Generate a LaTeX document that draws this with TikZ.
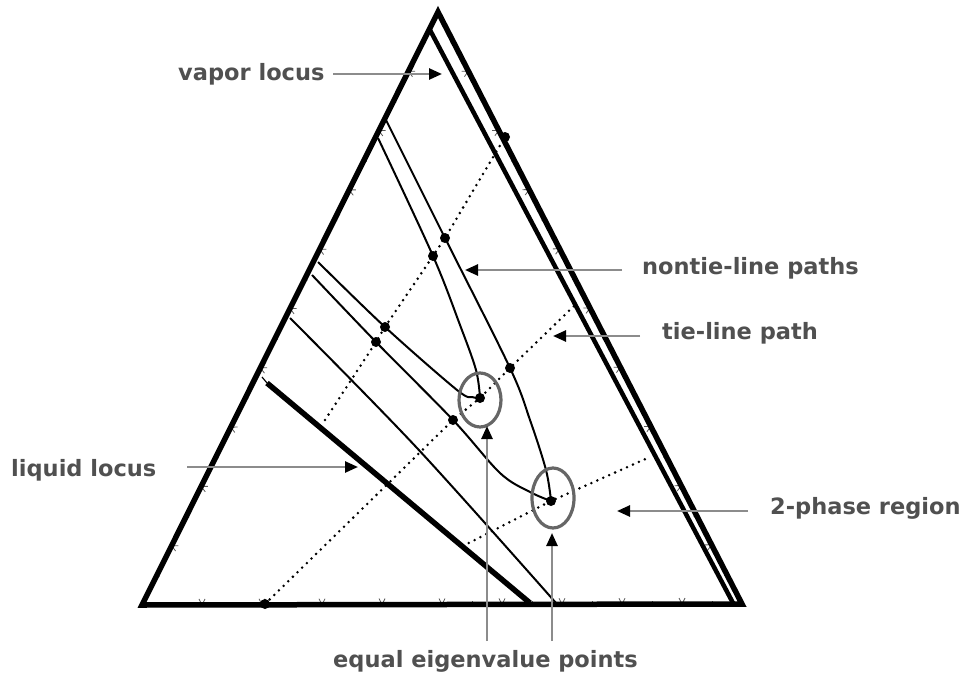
\documentclass[tikz,border=0pt]{standalone}
\usepackage{fontspec}
\setmainfont{DejaVu Sans}
\usetikzlibrary{arrows.meta,calc}
\definecolor{txtgray}{HTML}{505050}
\definecolor{arrgray}{HTML}{8C8C8C}
\definecolor{ellgray}{HTML}{666666}
\begin{document}
\begin{tikzpicture}[x=1pt,y=-1pt,
  frame/.style={line width=5.5pt, line join=miter, line cap=round},
  vapline/.style={line width=4.5pt, line cap=round},
  liqline/.style={line width=5.5pt},
  pathline/.style={line width=2pt, line join=round},
  tieline/.style={line width=2.8pt, line cap=round, dash pattern=on 0pt off 6.5pt},
  tickmark/.style={draw=black!65, line width=0.8pt},
  dotmark/.style={fill=black},
  eqell/.style={draw=ellgray, line width=3.2pt},
  lbl/.style={font=\fontsize{22.5}{26}\selectfont\bfseries, text=txtgray, inner sep=0pt, anchor=base west},
  ptr/.style={draw=arrgray, line width=2.5pt, -{Triangle[length=13pt,width=11pt,color=black]}}]
\useasboundingbox (0,0) rectangle (963,677);

% triangle corners
\coordinate (A) at (438,12);
\coordinate (B) at (142,605);
\coordinate (C) at (742,604);

% ticks
\foreach \k in {1,...,9}{
  \pgfmathsetmacro{\tM}{\k/10}
  \draw[tickmark, shift={($(B)!\tM!(C)$)}] (-3,-6) -- (0,0) -- (3,-6);
  \draw[tickmark, shift={($(B)!\tM!(A)$)}, rotate=-116.4] (-3,-6) -- (0,0) -- (3,-6);
  \draw[tickmark, shift={($(C)!\tM!(A)$)}, rotate=117.1] (-3,-6) -- (0,0) -- (3,-6);
}
\foreach \k in {1,...,10}{
  \pgfmathsetmacro{\tm}{\k/10-0.05}
  \draw[tickmark, shift={($(B)!\tm!(C)$)}] (0,0) -- (0,-3);
  \draw[tickmark, shift={($(B)!\tm!(A)$)}, rotate=-116.4] (0,0) -- (0,-3);
  \draw[tickmark, shift={($(C)!\tm!(A)$)}, rotate=117.1] (0,0) -- (0,-3);
}

% outer triangle
\draw[frame] (A) -- (B) -- (C) -- cycle;

% vapor locus
\coordinate (V1) at (430,30);
\coordinate (V2) at (733,603);
\draw[vapline] (V1) -- (V2);

% liquid locus
\coordinate (L0) at (262,377);
\coordinate (L1) at (267,383);
\coordinate (L2) at (530,603);
\draw[pathline, line width=1.2pt] (L0) -- (L1);
\draw[liqline] (L1) -- (L2);

% key points
\coordinate (d1) at (445,238);
\coordinate (d2) at (433,256);
\coordinate (d3) at (385,327);
\coordinate (d4) at (376,342);
\coordinate (d5) at (510,368);
\coordinate (d6) at (453,420);
\coordinate (e1) at (480,398);
\coordinate (e2) at (551,501);
\coordinate (d7) at (265,604);
\coordinate (d8) at (505,137);

% tie lines (dotted)
\coordinate (t1s) at (325,420);
\coordinate (t2e) at (575,305);
\coordinate (t3s) at (463,546);
\coordinate (t3e) at (650,457);
\draw[tieline] (t1s) -- (d4) -- (d3) -- (d2) -- (d1) -- (d8);
\draw[tieline] (d7) -- (d6) -- (e1) -- (d5) -- (t2e);
\draw[tieline] (t3s) -- (e2) -- (t3e);

% nontie-line paths
\draw[pathline] plot[smooth, tension=0.55] coordinates {(385,118) (d1) (d5) (530,420) (546,470) (e2)};
\draw[pathline] plot[smooth, tension=0.55] coordinates {(378,138) (d2) (460,325) (476,370) (e1)};
\draw[pathline] plot[smooth, tension=0.55] coordinates {(318,262) (d3) (457,390) (472,397) (e1)};
\draw[pathline] plot[smooth, tension=0.55] coordinates {(312,275) (d4) (d6) (500,473) (530,492) (e2)};
\draw[pathline] plot[smooth, tension=0.55] coordinates {(290,318) (417,448) (556,603)};

% dots
\foreach \p in {d1,d2,d3,d4,d5,d6,e1,e2,d7,d8}{
  \fill[dotmark] (\p) circle[radius=5pt];
}

% equal eigenvalue ellipses
\draw[eqell] (e1) ++(0,2) ellipse[x radius=21pt, y radius=27pt];
\draw[eqell] (e2) ++(2,-3) ellipse[x radius=21pt, y radius=30pt];

% labels
\node[lbl] (vl)  at (178,81)  {vapor locus};
\node[lbl] (ntl) at (642,274) {nontie-line paths};
\node[lbl] (tlp) at (662,339) {tie-line path};
\node[lbl] (ll)  at (11,476)  {liquid locus};
\node[lbl] (tpr) at (770,514) {2-phase region};
\node[lbl] (eep) at (333,667) {equal eigenvalue points};

% pointer arrows
\coordinate (vlT) at (333,74);  \coordinate (vlH) at (442,74);
\coordinate (ntT) at (622,270); \coordinate (ntH) at (465,270);
\coordinate (tlT) at (640,336); \coordinate (tlH) at (553,336);
\coordinate (llT) at (187,467); \coordinate (llH) at (358,467);
\coordinate (tpT) at (748,511); \coordinate (tpH) at (617,511);
\coordinate (e1T) at (487,641); \coordinate (e1H) at (487,426);
\coordinate (e2T) at (552,641); \coordinate (e2H) at (552,533);
\draw[ptr] (vlT) -- (vlH);
\draw[ptr] (ntT) -- (ntH);
\draw[ptr] (tlT) -- (tlH);
\draw[ptr] (llT) -- (llH);
\draw[ptr] (tpT) -- (tpH);
\draw[ptr] (e1T) -- (e1H);
\draw[ptr] (e2T) -- (e2H);
\end{tikzpicture}
\end{document}
